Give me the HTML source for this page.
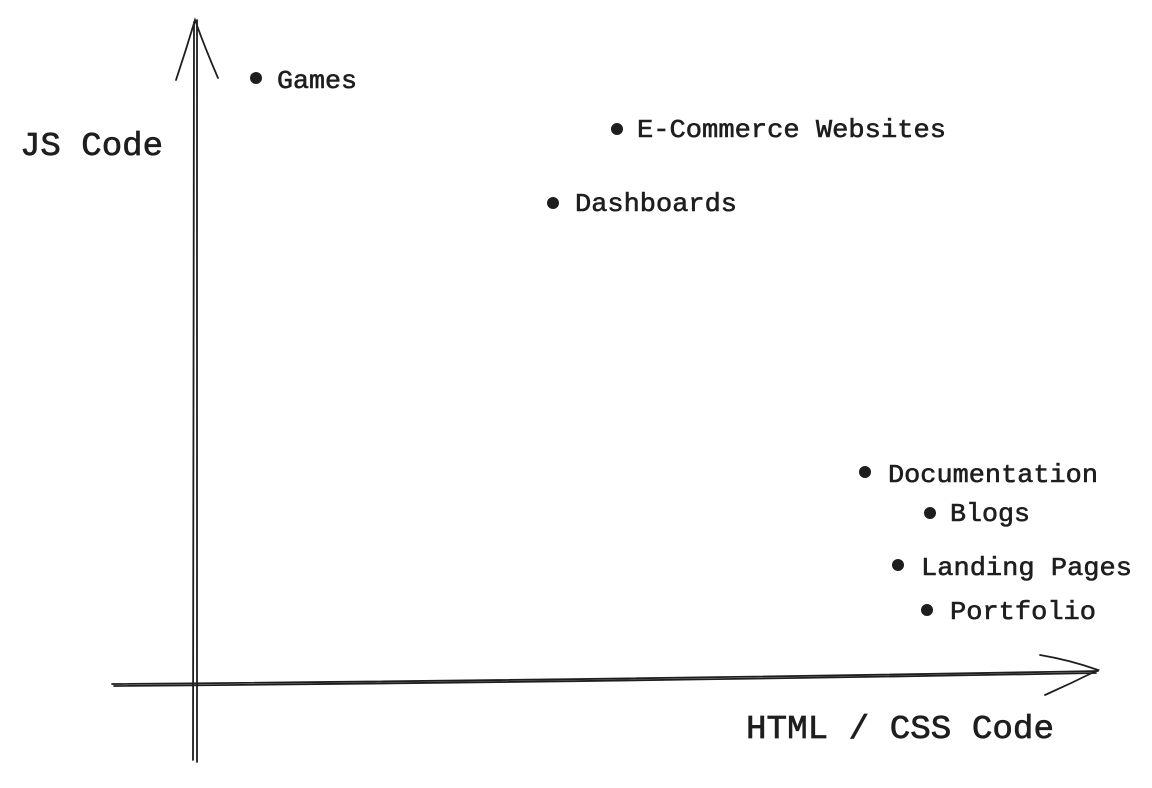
<!DOCTYPE html>
<html><head><meta charset="utf-8"><style>html,body{margin:0;padding:0;background:#fff}</style></head>
<body>
<svg width="1152" height="783" viewBox="0 0 1152 783" xmlns="http://www.w3.org/2000/svg">
<g stroke="#1e1e1e" stroke-width="1.8" fill="none" stroke-linecap="round">
<path d="M194 22 L193 760"/>
<path d="M197 20 Q198 400 197 762"/>
<path d="M176 80 Q186 50 195 20 Q205 48 218 78"/>
<path d="M112 684 Q600 680 1098 671"/>
<path d="M114 686 Q600 682 1096 673"/>
<path d="M1040 655 Q1070 660 1098 670 Q1072 683 1045 695"/>
</g>
<g fill="#1e1e1e">
<circle cx="256" cy="78" r="6"/>
<circle cx="617" cy="129" r="6"/>
<circle cx="553" cy="203" r="6"/>
<circle cx="865" cy="472" r="6"/>
<circle cx="930" cy="513" r="6"/>
<circle cx="898" cy="565" r="6"/>
<circle cx="927" cy="610" r="6"/>
</g>
<g font-family="Liberation Mono, monospace" font-size="26" fill="#1e1e1e" stroke="#1e1e1e" stroke-width="0.6">
<text x="277" y="88" textLength="80" lengthAdjust="spacingAndGlyphs">Games</text>
<text x="637" y="137" textLength="309" lengthAdjust="spacingAndGlyphs">E-Commerce Websites</text>
<text x="575" y="211" textLength="162" lengthAdjust="spacingAndGlyphs">Dashboards</text>
<text x="888" y="482" textLength="210" lengthAdjust="spacingAndGlyphs">Documentation</text>
<text x="950" y="521" textLength="80" lengthAdjust="spacingAndGlyphs">Blogs</text>
<text x="921" y="575" textLength="211" lengthAdjust="spacingAndGlyphs">Landing Pages</text>
<text x="950" y="619" textLength="146" lengthAdjust="spacingAndGlyphs">Portfolio</text>
</g>
<g font-family="Liberation Mono, monospace" font-size="33" fill="#1e1e1e" stroke="#1e1e1e" stroke-width="0.7">
<text x="20" y="155" textLength="143" lengthAdjust="spacingAndGlyphs">JS Code</text>
<text x="746" y="738" textLength="308" lengthAdjust="spacingAndGlyphs">HTML / CSS Code</text>
</g>
</svg>
</body></html>
